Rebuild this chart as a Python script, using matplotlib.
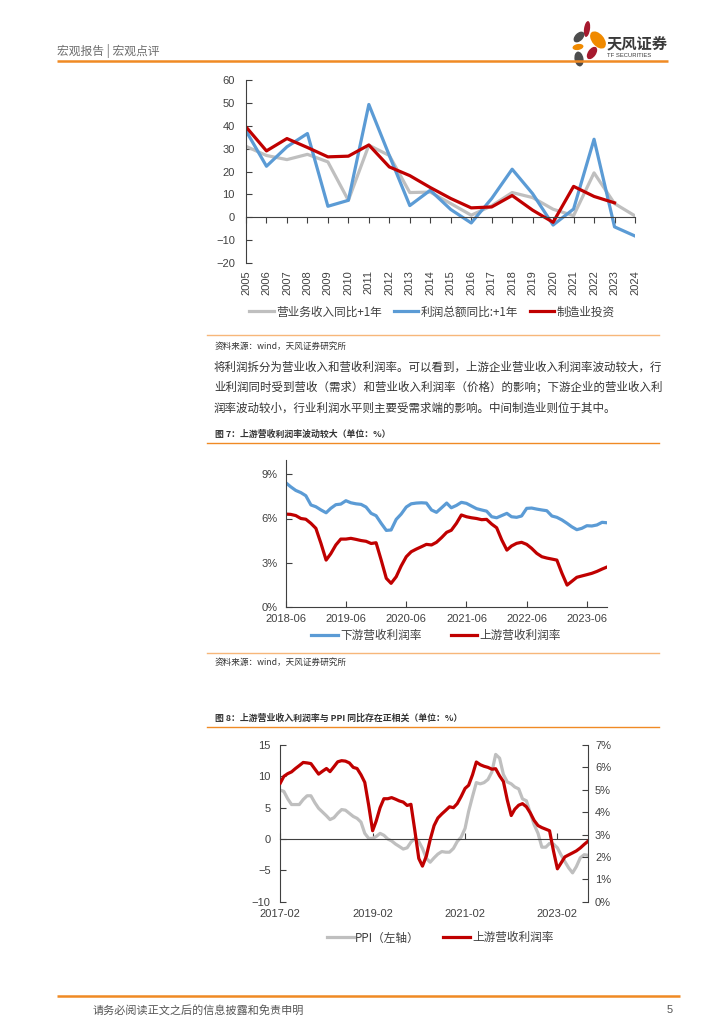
import matplotlib
matplotlib.use("Agg")
import matplotlib.pyplot as plt
from matplotlib.patches import Ellipse
import pandas as pd
import numpy as np

plt.rcParams['font.family'] = ['Liberation Sans', 'Noto Sans CJK SC', 'DejaVu Sans']
CJK = ['Noto Sans CJK SC', 'DejaVu Sans']

# ---------------- data: chart 1 ----------------
years = [str(y) for y in range(2005, 2025)]
revenue_yoy_lead = [31, 27, 25.2, 27.5, 24.2, 7.4, 31.5, 27, 10.8, 11, 6, 0.9, 5, 10.8, 8.6, 3.5, 0.7, 19.4, 6, 0.6]
profit_yoy_lead = [37.8, 22.3, 30.8, 36.6, 4.8, 7.4, 49.3, 27, 5.1, 11.8, 3.4, -2.5, 8.2, 21, 10.3, -3.4, 3.6, 34.1, -4.2, -8.2]
mfg_investment = [39.5, 29, 34.4, 30.5, 26.4, 26.7, 31.6, 22, 18.2, 13, 8.2, 4.1, 4.5, 9.5, 3.1, -2.2, 13.5, 9.1, 6.3]

# ---------------- data: chart 2 & 3 ----------------
upstream_margin = [  # 2017-02 .. 2023-10
    5.3, 5.6, 5.72, 5.8, 5.95, 6.08, 6.22, 6.2, 6.17, 5.93, 5.7, 5.83, 5.95, 5.81, 6.03, 6.25,
    6.3, 6.28, 6.2, 6.0, 5.95, 5.67, 5.33, 4.3, 3.17, 3.6, 4.2, 4.6, 4.6, 4.65, 4.58, 4.5,
    4.45, 4.3, 4.35, 3.17, 1.93, 1.59, 2.04, 2.77, 3.4, 3.74, 3.92, 4.08, 4.24, 4.2, 4.38, 4.7,
    5.06, 5.2, 5.67, 6.24, 6.12, 6.05, 6.0, 5.92, 5.94, 5.62, 5.37, 4.54, 3.85, 4.13, 4.31, 4.38,
    4.24, 3.97, 3.63, 3.4, 3.31, 3.24, 3.17, 2.27, 1.47, 1.72, 2.0, 2.09, 2.18, 2.27, 2.4, 2.56, 2.7]
downstream_margin = [  # 2018-06 .. 2023-10
    8.44, 8.16, 7.91, 7.76, 7.55, 6.92, 6.8, 6.58, 6.39, 6.69, 6.94, 6.98, 7.21, 7.07, 7.0, 6.96,
    6.78, 6.35, 6.19, 5.67, 5.19, 5.22, 5.94, 6.3, 6.78, 7.0, 7.05, 7.07, 7.05, 6.58, 6.42, 6.73,
    7.05, 6.73, 6.89, 7.1, 7.03, 6.85, 6.67, 6.58, 6.5, 6.12, 6.05, 6.2, 6.35, 6.12, 6.08, 6.17,
    6.69, 6.71, 6.64, 6.58, 6.53, 6.17, 6.08, 5.9, 5.67, 5.44, 5.24, 5.33, 5.51, 5.49, 5.56, 5.74, 5.71]
ppi_yoy = [  # 2017-02 .. 2023-10
    7.8, 7.6, 6.4, 5.5, 5.5, 5.5, 6.3, 6.9, 6.9, 5.8, 4.9,
    4.3, 3.7, 3.1, 3.4, 4.1, 4.7, 4.6, 4.1, 3.6, 3.3, 2.7, 0.9,
    0.1, 0.1, 0.4, 0.9, 0.6, 0.0, -0.3, -0.8, -1.2, -1.6, -1.4, -0.5,
    0.1, -0.4, -1.5, -3.1, -3.7, -3.0, -2.4, -2.0, -2.1, -2.1, -1.5, -0.4,
    0.3, 1.7, 4.4, 6.8, 9.0, 8.8, 9.0, 9.5, 10.7, 13.5, 12.9, 10.3,
    9.1, 8.8, 8.3, 8.0, 6.4, 6.1, 4.2, 2.3, 0.9, -1.3, -1.3, -0.7,
    -0.8, -1.4, -2.5, -3.6, -4.6, -5.4, -4.4, -3.0, -2.5, -2.6]
dates3 = pd.date_range("2017-02-01", periods=len(ppi_yoy), freq="MS")
dates2 = pd.date_range("2018-06-01", periods=len(downstream_margin), freq="MS")
upstream2 = upstream_margin[16:]
ticks2 = ["2018-06", "2019-06", "2020-06", "2021-06", "2022-06", "2023-06"]
ticks3 = ["2017-02", "2019-02", "2021-02", "2023-02"]

# ---------------- styles ----------------
W, H = 724, 1024
GRAY = '#BFBFBF'
BLUE = '#5B9BD5'
RED = '#C00000'
ORANGE = '#F08A24'
LORANGE = '#F7B77A'
TXT = '#404040'
LEGSIZE = 8.4

fig = plt.figure(figsize=(W / 100, H / 100), dpi=100)

# overlay in pixel coordinates
ov = fig.add_axes([0, 0, 1, 1])
ov.set_xlim(0, W)
ov.set_ylim(H, 0)
ov.axis('off')


def pax(x0, y0, x1, y1):
    return fig.add_axes([x0 / W, 1 - y1 / H, (x1 - x0) / W, (y1 - y0) / H])


# ---- header ----
ov.text(57, 51, "宏观报告 | 宏观点评", family=CJK, fontsize=8.5, color='#6E6E6E', va='center', ha='left')
ov.plot([57, 668], [61, 61], color=ORANGE, lw=1.8, solid_capstyle='butt')
# logo petals
petals = [
    (587, 29, 6, 16, 8, '#A6192E'),
    (579, 37, 8, 13, 45, '#4D4D4D'),
    (598, 40, 12, 20, -40, '#F08A00'),
    (578, 47, 6, 11, 80, '#F08A00'),
    (592, 53, 8, 14, 35, '#A6192E'),
    (579, 59, 9, 15, -10, '#4D4D4D'),
]
for (cx, cy, w, h, a, c) in petals:
    ov.add_patch(Ellipse((cx, cy), w, h, angle=a, color=c, lw=0))
ov.text(607, 43, "天风证券", family=CJK, fontsize=11, fontweight='bold', color='#3A3A3A', va='center', ha='left')
ov.text(607, 55.5, "TF SECURITIES", family='Liberation Sans', fontsize=4.2, color='#3A3A3A', va='center', ha='left')

# ---- footer ----
ov.plot([57, 680], [996, 996], color=ORANGE, lw=1.8, solid_capstyle='butt')
ov.text(93, 1010, "请务必阅读正文之后的信息披露和免责申明", family=CJK, fontsize=8, color='#555555', va='center')
ov.text(670, 1010, "5", family='Liberation Sans', fontsize=8, color='#555555', va='center', ha='center')

# =============== Chart 1 ===============
ax1 = pax(246, 80, 635, 263)
x1 = np.arange(len(years))
ax1.plot(x1, revenue_yoy_lead, color=GRAY, lw=2.3, label="营业务收入同比+1年")
ax1.plot(x1, profit_yoy_lead, color=BLUE, lw=2.3, label="利润总额同比:+1年")
ax1.plot(x1[:len(mfg_investment)], mfg_investment, color=RED, lw=2.3, label="制造业投资")
ax1.set_xlim(0, len(years) - 1)
ax1.set_ylim(-20, 60)
ax1.set_yticks(range(-20, 61, 10))
for s in ['top', 'right']:
    ax1.spines[s].set_visible(False)
ax1.spines['bottom'].set_position(('data', 0))
ax1.spines['bottom'].set_color('#404040')
ax1.spines['left'].set_color('#404040')
ax1.spines['bottom'].set_linewidth(0.8)
ax1.spines['left'].set_linewidth(0.8)
ax1.set_xticks(x1)
ax1.tick_params(axis='x', direction='out', length=4, labelbottom=False, color='#404040', width=0.8)
ax1.tick_params(axis='y', direction='in', length=4, labelsize=8, labelcolor=TXT, color='#404040', width=0.8, pad=8)
sec1 = ax1.secondary_xaxis(0.0)
sec1.set_xticks(x1)
sec1.set_xticklabels(years, rotation=90, fontsize=8, color=TXT)
sec1.tick_params(length=0, pad=5)
sec1.spines['bottom'].set_visible(False)
leg1 = ax1.legend(loc='center', bbox_to_anchor=(0.478, -0.268), ncol=3, frameon=False,
                  prop={'family': CJK, 'size': LEGSIZE}, handlelength=2.1, columnspacing=1.0, handletextpad=0.2)
for t in leg1.get_texts():
    t.set_color(TXT)

ov.plot([207, 659], [335, 335], color=LORANGE, lw=1.0)
ov.text(215, 346, "资料来源：wind，天风证券研究所", family=CJK, fontsize=6.2, color='#333333', va='center')

para = ["将利润拆分为营业收入和营收利润率。可以看到，上游企业营业收入利润率波动较大，行",
        "业利润同时受到营收（需求）和营业收入利润率（价格）的影响；下游企业的营业收入利",
        "润率波动较小，行业利润水平则主要受需求端的影响。中间制造业则位于其中。"]
for i, line in enumerate(para):
    ov.text(214, 367 + i * 20.5, line, family=CJK, fontsize=8.25, color='#333333', va='center')

ov.text(215, 434, "图 7：上游营收利润率波动较大（单位：%）", family=CJK, fontsize=6.4,
        fontweight='bold', color='#333333', va='center')
ov.plot([207, 659], [443, 443], color=ORANGE, lw=1.0)

# =============== Chart 2 ===============
ax2 = pax(285.7, 459.7, 607, 606.7)
ax2.plot(dates2, downstream_margin, color=BLUE, lw=2.3, label="下游营收利润率")
ax2.plot(dates2, upstream2, color=RED, lw=2.3, label="上游营收利润率")
ax2.set_xlim(dates2[0], dates2[-1])
ax2.set_ylim(0, 10)
ax2.set_yticks([0, 3, 6, 9])
ax2.set_yticklabels([f"{v}%" for v in [0, 3, 6, 9]])
for s in ['top', 'right']:
    ax2.spines[s].set_visible(False)
for s in ['bottom', 'left']:
    ax2.spines[s].set_color('#404040')
    ax2.spines[s].set_linewidth(0.8)
ax2.set_xticks(pd.to_datetime(ticks2))
ax2.set_xticklabels(ticks2)
ax2.tick_params(axis='x', direction='in', length=4, labelsize=8, labelcolor=TXT, color='#404040', width=0.8, pad=5)
ax2.tick_params(axis='y', direction='in', length=4, labelsize=8, labelcolor=TXT, color='#404040', width=0.8, pad=6)
leg2 = ax2.legend(loc='center', bbox_to_anchor=((436 - 285.7) / 321.3, (606.7 - 636) / 147), ncol=2, frameon=False,
                  prop={'family': CJK, 'size': LEGSIZE}, handlelength=2.3, columnspacing=2.5, handletextpad=0.15)
for t in leg2.get_texts():
    t.set_color(TXT)

ov.plot([207, 659], [653, 653], color=LORANGE, lw=1.0)
ov.text(215, 662, "资料来源：wind，天风证券研究所", family=CJK, fontsize=6.2, color='#333333', va='center')

ov.text(215, 718, "图 8：上游营业收入利润率与 PPI 同比存在正相关（单位：%）", family=CJK, fontsize=6.4,
        fontweight='bold', color='#333333', va='center')
ov.plot([207, 659], [727, 727], color=ORANGE, lw=1.0)

# =============== Chart 3 ===============
ax3 = pax(280.3, 745, 588, 901.7)
ax3b = ax3.twinx()
ax3.plot(dates3, ppi_yoy, color=GRAY, lw=2.3, label="PPI（左轴）")
ax3b.plot(dates3, upstream_margin, color=RED, lw=2.3, label="上游营收利润率")
ax3.set_xlim(dates3[0], dates3[-1])
ax3.set_ylim(-10, 15)
ax3.set_yticks(range(-10, 16, 5))
ax3b.set_ylim(0, 7)
ax3b.set_yticks(range(0, 8))
ax3b.set_yticklabels([f"{v}%" for v in range(0, 8)])
ax3.spines['top'].set_visible(False)
ax3b.spines['top'].set_visible(False)
ax3b.spines['bottom'].set_visible(False)
ax3b.spines['left'].set_visible(False)
ax3.spines['right'].set_visible(False)
ax3.spines['bottom'].set_position(('data', 0))
for sp in [ax3.spines['bottom'], ax3.spines['left'], ax3b.spines['right']]:
    sp.set_color('#404040')
    sp.set_linewidth(0.8)
ax3.set_xticks(pd.to_datetime(ticks3))
ax3.tick_params(axis='x', direction='in', length=4, labelbottom=False, color='#404040', width=0.8)
ax3.tick_params(axis='y', direction='in', length=4, labelsize=8, labelcolor=TXT, color='#404040', width=0.8, pad=7)
ax3b.tick_params(axis='y', direction='in', length=4, labelsize=8, labelcolor=TXT, color='#404040', width=0.8, pad=5)
sec3 = ax3.secondary_xaxis(0.0)
sec3.set_xticks(pd.to_datetime(ticks3))
sec3.set_xticklabels(ticks3, fontsize=8, color=TXT)
sec3.tick_params(length=0, pad=5)
sec3.spines['bottom'].set_visible(False)
h1, l1 = ax3.get_legend_handles_labels()
h2, l2 = ax3b.get_legend_handles_labels()
leg3 = ax3b.legend(h1 + h2, l1 + l2, loc='center', bbox_to_anchor=((440 - 280.3) / 307.7, (901.7 - 938) / 156.7),
                   ncol=2, frameon=False, prop={'family': CJK, 'size': LEGSIZE}, handlelength=2.3,
                   columnspacing=2.0, handletextpad=0.15)
for t in leg3.get_texts():
    t.set_color(TXT)

fig.savefig("out.png", dpi=100)
